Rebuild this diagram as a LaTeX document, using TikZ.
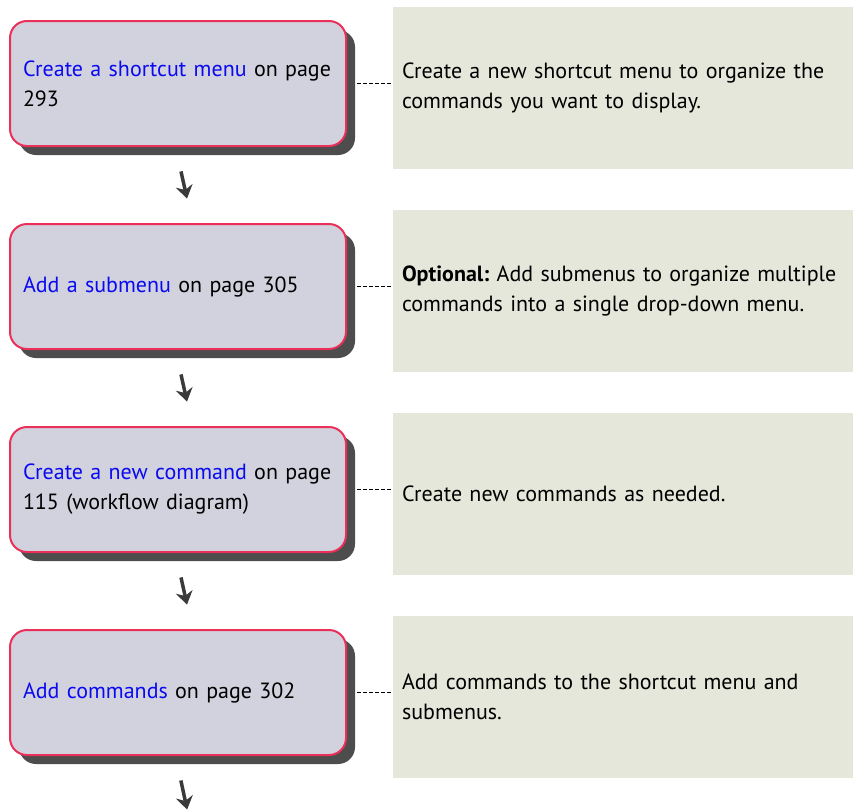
\documentclass[tikz,border=0pt]{standalone}
\usepackage{fontspec}
\setmainfont{PT Sans}
\usepackage{tikz}
\usetikzlibrary{positioning, arrows.meta, shadows, calc}

\definecolor{stepfill}{HTML}{D2D2DF}
\definecolor{stepdraw}{HTML}{EA2F58}
\definecolor{shadowgray}{HTML}{4D4D4D}
\definecolor{notefill}{HTML}{E4E7D9}
\definecolor{linkblue}{HTML}{0A0AF0}
\definecolor{arrowgray}{HTML}{3A3A3A}

\newcommand{\lnk}[1]{\textcolor{linkblue}{#1}}
\frenchspacing

\begin{document}
\begin{tikzpicture}[x=1pt, y=-1pt, font=\fontsize{22}{30}\selectfont]
	\tikzset{
		stepbox/.style={rectangle, rounded corners=17pt, draw=stepdraw, line width=2pt, fill=stepfill,
			text width=310pt, inner xsep=13pt, inner ysep=0pt, minimum height=125pt, align=left,
			drop shadow={shadow xshift=9pt, shadow yshift=-9pt, fill=shadowgray, opacity=1}},
		notebox/.style={rectangle, fill=notefill, text width=442pt, inner xsep=9pt, inner ysep=0pt,
			minimum height=162pt, align=left},
		linker/.style={dash pattern=on 4pt off 2pt, line width=1.1pt},
		flow/.style={line width=3.5pt, arrowgray, -{Stealth[length=13pt, width=17pt]},
			shorten <=25pt, shorten >=25pt}
	}
	\useasboundingbox (0,0) rectangle (853,809);

	% steps
	\node[stepbox] (step1) at (178,83.5) {\lnk{Create a shortcut menu} on page\\293};
	\node[stepbox] (step2) at (178,286.5) {\lnk{Add a submenu} on page 305};
	\node[stepbox] (step3) at (178,489.5) {\lnk{Create a new command} on page\\115 (workflow diagram)};
	\node[stepbox] (step4) at (178,692.5) {\lnk{Add commands} on page 302};
	\coordinate (exit) at ($(step4.south)+(14.4,78)$);

	% notes
	\node[notebox] (note1) at (623,88) {Create a new shortcut menu to organize the\\commands you want to display.};
	\node[notebox] (note2) at (623,291) {\textbf{Optional:} Add submenus to organize multiple\\commands into a single drop-down menu.};
	\node[notebox] (note3) at (623,494) {Create new commands as needed.};
	\node[notebox] (note4) at (623,697) {Add commands to the shortcut menu and\\submenus.};

	% dashed links
	\foreach \i in {1,...,4} {
		\draw[linker] ([xshift=10pt]step\i.east) -- (step\i.east -| note\i.west);
	}

	% flow arrows
	\draw[flow] ([xshift=-2.4pt]step1.south) -- ([xshift=14.4pt]step2.north);
	\draw[flow] ([xshift=-2.4pt]step2.south) -- ([xshift=14.4pt]step3.north);
	\draw[flow] ([xshift=-2.4pt]step3.south) -- ([xshift=14.4pt]step4.north);
	\draw[flow] ([xshift=-2.4pt]step4.south) -- (exit);
\end{tikzpicture}
\end{document}
